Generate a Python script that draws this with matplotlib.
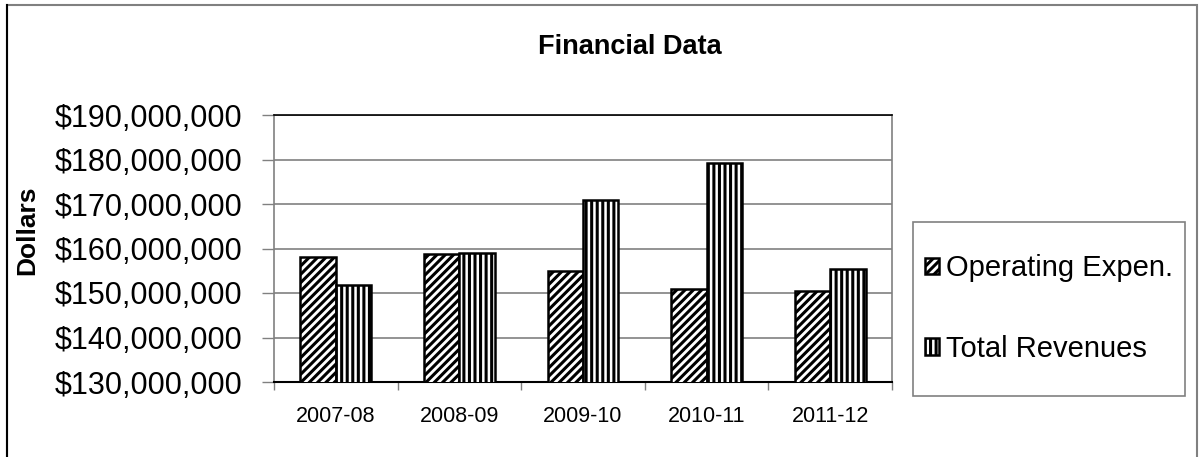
import matplotlib
matplotlib.use("Agg")
import matplotlib.pyplot as plt
from matplotlib.patches import Rectangle
from matplotlib.ticker import FuncFormatter, FixedLocator
import numpy as np

plt.rcParams['font.family'] = ['Liberation Sans', 'DejaVu Sans']
plt.rcParams['hatch.linewidth'] = 2.2

# data
years = ['2007-08', '2008-09', '2009-10', '2010-11', '2011-12']
operating_expen = [158.2e6, 158.8e6, 154.9e6, 151.0e6, 150.4e6]
total_revenues = [151.7e6, 159.1e6, 171.0e6, 179.3e6, 155.5e6]
y_ticks = [130e6, 140e6, 150e6, 160e6, 170e6, 180e6, 190e6]

W, H = 1200, 457
fig = plt.figure(figsize=(W / 100, H / 100), dpi=100)
ax = fig.add_axes([274 / W, 1 - 382 / H, (892 - 274) / W, (382 - 115) / H])

x = np.arange(len(years))
w = 1 / 3.5
b1 = ax.bar(x - w / 2, operating_expen, w, bottom=0, color='white', edgecolor='black',
            linewidth=1.8, hatch='////', label='Operating Expen.', zorder=3)
b2 = ax.bar(x + w / 2, total_revenues, w, bottom=0, color='white', edgecolor='black',
            linewidth=1.8, hatch='|||', label='Total Revenues', zorder=3)

ax.set_ylim(130e6, 190e6)
ax.set_xlim(-0.5, len(years) - 0.5)
ax.set_yticks(y_ticks)
ax.yaxis.set_major_formatter(FuncFormatter(lambda v, p: '${:,.0f}'.format(v)))
ax.tick_params(axis='y', labelsize=22, length=9, color='#808080', pad=14, width=1)
ax.grid(axis='y', color='#808080', linewidth=1.2, zorder=0)

# category boundaries as ticks, labels centered
ax.xaxis.set_major_locator(FixedLocator(np.arange(-0.5, len(years), 1)))
ax.xaxis.set_minor_locator(FixedLocator(x))
ax.set_xticklabels([''] * (len(years) + 1))
ax.set_xticklabels(years, minor=True)
ax.tick_params(axis='x', which='major', length=6, color='#808080', width=1)
ax.tick_params(axis='x', which='minor', length=0, labelsize=15.5, pad=17)

for s in ['left', 'right']:
    ax.spines[s].set_color('#808080')
    ax.spines[s].set_linewidth(1.2)
ax.spines['top'].set_color('black')
ax.spines['top'].set_linewidth(1.2)
ax.spines['bottom'].set_color('black')
ax.spines['bottom'].set_linewidth(1.5)

fig.text(629.5 / W, 1 - 54 / H, 'Financial Data', ha='center', va='baseline',
         fontsize=19.5, fontweight='bold')
fig.text(27 / W, 1 - 230 / H, 'Dollars', ha='center', va='center', rotation=90,
         fontsize=19, fontweight='bold')

# legend frame drawn separately
fig.patches.append(Rectangle((913 / W, 1 - 396 / H), (1185 - 913) / W, (396 - 222) / H,
                             transform=fig.transFigure, facecolor='white',
                             edgecolor='#808080', linewidth=1.2))
leg = fig.legend(handles=[b1, b2], loc='center', bbox_to_anchor=(1049 / W, 1 - 308.5 / H),
                 frameon=False, fontsize=21, handlelength=0.5, handleheight=0.5,
                 handletextpad=0.25, labelspacing=1.8, borderpad=0)

# outer chart frame
fig.patches.append(Rectangle((6.5 / W, -0.05), (1197 - 6.5) / W, 1.05 - 4.5 / H,
                             transform=fig.transFigure, facecolor='none',
                             edgecolor='#808080', linewidth=1.5))
fig.lines.append(plt.Line2D([6.5 / W, 6.5 / W], [0, 1 - 4.5 / H], transform=fig.transFigure,
                            color='black', linewidth=1.5))

fig.savefig('out.png', dpi=100)
